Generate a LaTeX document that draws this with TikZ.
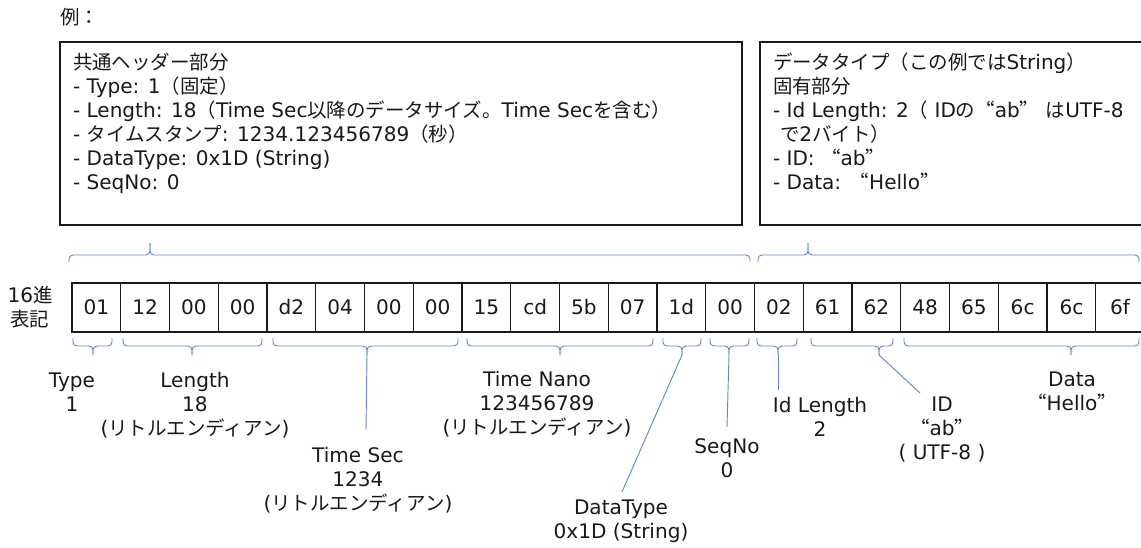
\documentclass[tikz,border=0pt]{standalone}
\usepackage{fontspec}
\setmainfont{DejaVu Sans}[Scale=1.03]
\newfontfamily\jp{Noto Sans CJK JP}
\newfontfamily\jpq{Noto Sans CJK JP}[RawFeature=+fwid]
\newcommand\J[1]{{\jp #1}}
\newcommand\Q[1]{{\jpq #1}}
\definecolor{brc}{RGB}{95,137,214}
\definecolor{ink}{RGB}{25,25,25}
\newcommand\brc[7]{%
  \draw[bracestyle] (#1,#5) -- (#1,#4) -- (#3,#4) -- (#3,#6);
  \draw[bracestyle] (#2,#5) -- (#2,#4) -- (#3,#4) -- (#3,#6);
  \coordinate (#7) at (#3,#6);}
\begin{document}
\begin{tikzpicture}[x=0.75pt,y=-0.75pt,
  txt/.style={inner sep=0pt, outer sep=0pt, font=\fontsize{14.6}{18}\selectfont, text=ink},
  boxline/.style={txt, anchor=base west},
  lbl/.style={txt, align=center, anchor=north},
  cellbox/.style={draw=ink, line width=0.9pt, minimum width=36.56pt, minimum height=36.75pt, anchor=north west, txt},
  frame/.style={draw=ink, line width=1.3pt},
  bracestyle/.style={draw=brc, line width=0.7pt, rounded corners=3pt},
  conn/.style={draw=brc, line width=0.7pt}]
\useasboundingbox (0,0) rectangle (1141,547);
\clip (0,0) rectangle (1141,547);

% title
\node[boxline] (title) at (60,24.5) {\J{例：}};

% header boxes
\draw[frame] (60,42) rectangle (742,225);
\draw[frame] (760,42) rectangle (1160,225);

\node[boxline] (a1) at (73,69.5)  {\J{共通ヘッダー部分}};
\node[boxline] (a2) at (73,93.5)  {- Type: 1\J{（固定）}};
\node[boxline] (a3) at (73,117.5) {- Length: 18\J{（}Time Sec\J{以降のデータサイズ。}Time Sec\J{を含む）}};
\node[boxline] (a4) at (73,141)   {- \J{タイムスタンプ}: 1234.123456789\J{（秒）}};
\node[boxline] (a5) at (73,165)   {- DataType: 0x1D (String)};
\node[boxline] (a6) at (73,189)   {- SeqNo: 0};

\node[boxline] (b1) at (773,69.5)  {\J{データタイプ（この例では}String\J{）}};
\node[boxline] (b2) at (773,93.5)  {\J{固有部分}};
\node[boxline] (b3) at (773,117.5) {- Id Length: 2\J{（} ID\J{の}\Q{“}ab\Q{”} \J{は}UTF-8};
\node[boxline] (b4) at (780,141)   {\J{で}2\J{バイト）}};
\node[boxline] (b5) at (773,165)   {- ID: \Q{“}ab\Q{”}};
\node[boxline] (b6) at (773,189)   {- Data: \Q{“}Hello\Q{”}};

% top braces
\brc{69}{750}{150}{255}{262}{243}{tA}
\brc{758}{1139}{808}{255}{262}{243}{tB}

% row label
\node[lbl] (hex) at (30,286) {16\J{進}\\ \J{表記}};

% byte cells
\foreach \v [count=\i from 0] in {01,12,00,00,d2,04,00,00,15,cd,5b,07,1d,00,02,61,62,48,65,6c,6c,6f}
  \node[cellbox] (c\i) at ({72+48.75*\i},283) {\v};

% bottom braces
\brc{73}{112}{93}{346}{338}{355}{bTY}
\brc{123}{262}{192}{346}{338}{355}{bLE}
\brc{273}{458}{367}{346}{338}{355}{bTS}
\brc{467}{653}{560}{346}{338}{355}{bTN}
\brc{663}{701}{682}{346}{338}{355}{bDT}
\brc{710}{749}{729}{346}{338}{355}{bSQ}
\brc{757}{797}{778}{346}{338}{355}{bIL}
\brc{811}{893}{879}{346}{338}{355}{bID}
\brc{904}{1139}{1071}{346}{338}{355}{bDA}

% labels
\node[lbl] (lTY) at (72,373)   {Type\\1};
\node[lbl] (lLE) at (195,372)  {Length\\18\\(\J{リトルエンディアン})};
\node[lbl] (lTS) at (358,447)  {Time Sec\\1234\\(\J{リトルエンディアン})};
\node[lbl] (lTN) at (537,371)  {Time Nano\\123456789\\(\J{リトルエンディアン})};
\node[lbl] (lDT) at (621,500)  {DataType\\0x1D (String)};
\node[lbl] (lSQ) at (727,439)  {SeqNo\\0};
\node[lbl] (lIL) at (820,397)  {Id Length\\2};
\node[lbl] (lID) at (942,397)  {ID\\ \Q{“}ab\Q{”}\\( UTF-8 )};
\node[lbl] (lDA) at (1072,372) {Data\\ \Q{“}Hello\Q{”}};

% connectors
\coordinate (eTS) at (366,430);
\coordinate (eDT) at (622,492);
\coordinate (eSQ) at (727,427);
\coordinate (eIL) at (778,390);
\coordinate (eID) at (920,393);
\draw[conn] (bTS) -- (eTS);
\draw[conn] (bDT) -- (eDT);
\draw[conn] (bSQ) -- (eSQ);
\draw[conn] (bIL) -- (eIL);
\draw[conn] (bID) -- (eID);
\end{tikzpicture}
\end{document}
